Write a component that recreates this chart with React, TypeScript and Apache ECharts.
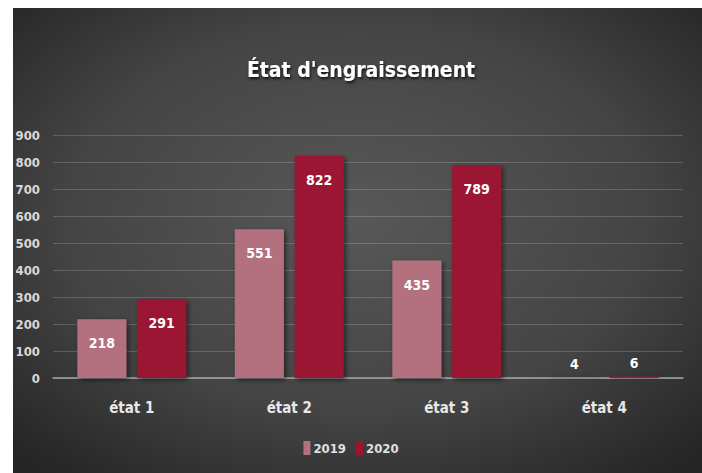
import React, { useEffect, useRef } from "react";
import * as echarts from "echarts";

const categories = ["état 1", "état 2", "état 3", "état 4"];
const values2019 = [218, 551, 435, 4];
const values2020 = [291, 822, 789, 6];
const seriesNames = ["2019", "2020"];
const yTicks = [0, 100, 200, 300, 400, 500, 600, 700, 800, 900];

const FONT = "'DejaVu Sans Condensed', 'DejaVu Sans', sans-serif";
const WEIGHT = "bold";

function toData(vals: number[]) {
  return vals.map((v) =>
    v < 50
      ? { value: v, label: { position: "top", distance: 6 } }
      : { value: v }
  );
}

export default function App() {
  const ref = useRef<HTMLDivElement>(null);
  useEffect(() => {
    document.body.style.margin = "0";
    const chart = echarts.init(ref.current!, undefined, { renderer: "svg" });
    const barLabel = {
      show: true,
      position: "insideTop",
      distance: 17,
      color: "#ffffff",
      fontFamily: FONT,
      fontWeight: WEIGHT,
      fontSize: 14,
    };
    const shadow = {
      shadowColor: "rgba(0,0,0,0.55)",
      shadowBlur: 5,
      shadowOffsetX: 2,
      shadowOffsetY: 2,
    };
    chart.setOption({
      animation: false,
      backgroundColor: "#ffffff",
      graphic: [
        {
          type: "rect",
          z: -10,
          silent: true,
          shape: { x: 13, y: 8, width: 689, height: 465 },
          style: {
            fill: new echarts.graphic.RadialGradient(0.5, 0.45, 0.7, [
              { offset: 0, color: "#585858" },
              { offset: 0.6, color: "#444444" },
              { offset: 1, color: "#262626" },
            ]),
          },
        },
      ],
      title: {
        text: "État d'engraissement",
        left: 356,
        top: 54,
        textAlign: "center",
        textStyle: {
          color: "#ffffff",
          fontFamily: FONT,
          fontWeight: WEIGHT,
          fontSize: 21,
          textShadowColor: "rgba(0,0,0,0.8)",
          textShadowBlur: 3,
          textShadowOffsetX: 1,
          textShadowOffsetY: 2,
        },
      },
      legend: {
        data: seriesNames,
        left: "center",
        top: 436,
        itemWidth: 7,
        itemHeight: 14,
        itemGap: 10,
        icon: "rect",
        textStyle: {
          color: "#e0e0e0",
          fontFamily: FONT,
          fontWeight: WEIGHT,
          fontSize: 13,
          padding: [0, 0, 0, -2],
        },
      },
      grid: { left: 53, right: 19, top: 135, bottom: 95, containLabel: false },
      xAxis: {
        type: "category",
        data: categories,
        axisLine: { lineStyle: { color: "#a6a6a6", width: 1.5 } },
        axisTick: { show: false },
        axisLabel: {
          color: "#e8e8e8",
          fontFamily: FONT,
          fontWeight: WEIGHT,
          fontSize: 15,
          margin: 22,
        },
      },
      yAxis: {
        type: "value",
        min: yTicks[0],
        max: yTicks[yTicks.length - 1],
        interval: 100,
        axisLine: { show: false },
        axisTick: { show: false },
        splitLine: { lineStyle: { color: "rgba(255,255,255,0.18)", width: 1 } },
        axisLabel: {
          color: "#d9d9d9",
          fontFamily: FONT,
          fontWeight: WEIGHT,
          fontSize: 13,
          margin: 13,
        },
      },
      series: [
        {
          name: seriesNames[0],
          type: "bar",
          data: toData(values2019),
          barWidth: 49,
          barGap: "22%",
          itemStyle: { color: "#b3707f", ...shadow },
          label: barLabel,
        },
        {
          name: seriesNames[1],
          type: "bar",
          data: toData(values2020),
          barWidth: 49,
          barGap: "22%",
          itemStyle: { color: "#9b1430", ...shadow },
          label: barLabel,
        },
      ],
    });
    return () => chart.dispose();
  }, []);
  return <div ref={ref} style={{ width: 702, height: 473 }} />;
}
